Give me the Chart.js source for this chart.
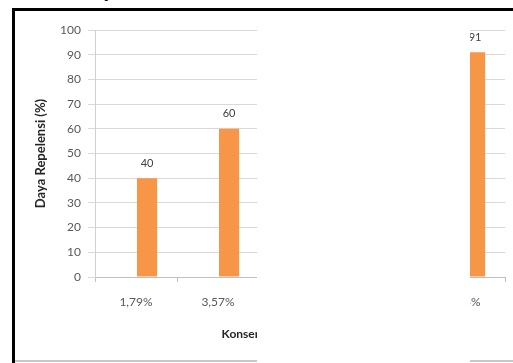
<!DOCTYPE html>
<html>
<head>
<meta charset="utf-8">
<script src="https://cdn.jsdelivr.net/npm/chart.js@4.4.1/dist/chart.umd.min.js"></script>
<style>
  html, body { margin: 0; padding: 0; background: #fff; width: 513px; height: 363px; overflow: hidden; }
  #frameTop { position: absolute; left: 12px; top: 8px; width: 501px; height: 3px; background: #000; }
  #frameLeft { position: absolute; left: 12px; top: 8px; width: 3px; height: 355px; background: #000; }
  #frameBottom { position: absolute; left: 15px; top: 360px; width: 498px; height: 2px; background: #c8c8c8; }
  #wrap { position: absolute; left: 16px; top: 12px; width: 497px; height: 348px; }
  #mask { position: absolute; left: 257px; top: 11px; width: 213px; height: 352px; background: #fff; }
  #above { position: absolute; left: 104px; top: -16px; font: bold 15px "Liberation Sans", sans-serif; color: #111; }
</style>
</head>
<body>
<div id="above">y</div>
<div id="frameTop"></div>
<div id="frameLeft"></div>
<div id="frameBottom"></div>
<div id="wrap"><canvas id="c" width="497" height="348"></canvas></div>
<div id="mask"></div>
<script>
// Data (middle categories are hidden in the reference)
const categories = ["1,79%", "3,57%", "5,36%", "7,14%", "8,93%"];
const spacerValues = [null, null, null, null, null];   // empty first series (Excel clustered layout)
const repelensiValues = [40, 60, null, null, 91];
const yTicks = [0, 10, 20, 30, 40, 50, 60, 70, 80, 90, 100];
const yTitle = "Daya Repelensi (%)";
const xTitle = "Konsentrasi Ekstrak Daun (%)";

const valueLabels = {
  id: 'valueLabels',
  afterDatasetsDraw(chart) {
    const ctx = chart.ctx;
    const meta = chart.getDatasetMeta(1);
    ctx.save();
    ctx.font = '11px Lato, sans-serif';
    ctx.fillStyle = '#404040';
    ctx.textAlign = 'center';
    ctx.textBaseline = 'middle';
    meta.data.forEach((bar, i) => {
      const v = chart.data.datasets[1].data[i];
      if (v === null || v === undefined) return;
      ctx.fillText(String(v), bar.x, bar.y - 15);
    });
    ctx.restore();
  }
};

new Chart(document.getElementById('c'), {
  type: 'bar',
  data: {
    labels: categories,
    datasets: [
      { label: '', data: spacerValues, backgroundColor: 'rgba(0,0,0,0)' },
      { label: yTitle, data: repelensiValues, backgroundColor: '#F79646', borderWidth: 0 }
    ]
  },
  options: {
    responsive: false,
    animation: false,
    devicePixelRatio: 1,
    categoryPercentage: 0.54,
    barPercentage: 0.91,
    layout: { padding: { left: 14, top: 18, right: 8, bottom: 0 } },
    plugins: { legend: { display: false }, tooltip: { enabled: false } },
    scales: {
      x: {
        grid: { display: true, drawOnChartArea: false, drawTicks: true, tickLength: 5, color: '#bfbfbf', offset: true },
        border: { display: true, color: '#bfbfbf', width: 1 },
        ticks: { color: '#595959', font: { family: 'Lato', size: 12 }, padding: 13, maxRotation: 0, autoSkip: false },
        title: { display: true, text: xTitle, color: '#262626', font: { family: 'Lato', size: 12, weight: 'bold' }, padding: { top: 0, bottom: 19 } },
        afterFit(scale) { scale.height = 83; }
      },
      y: {
        min: 0, max: 100,
        afterBuildTicks(scale) { scale.ticks = yTicks.map(v => ({ value: v })); },
        grid: { color: '#d9d9d9', drawTicks: true, tickLength: 7, lineWidth: 1 },
        border: { display: true, color: '#d0d0d0', width: 1 },
        ticks: { color: '#595959', font: { family: 'Lato', size: 12 }, padding: 7 },
        title: { display: true, text: yTitle, color: '#262626', font: { family: 'Lato', size: 13, weight: 'bold' }, padding: { top: 3, bottom: 0 } },
        afterFit(scale) { scale.width = 65; }
      }
    }
  },
  plugins: [valueLabels]
});
</script>
</body>
</html>
